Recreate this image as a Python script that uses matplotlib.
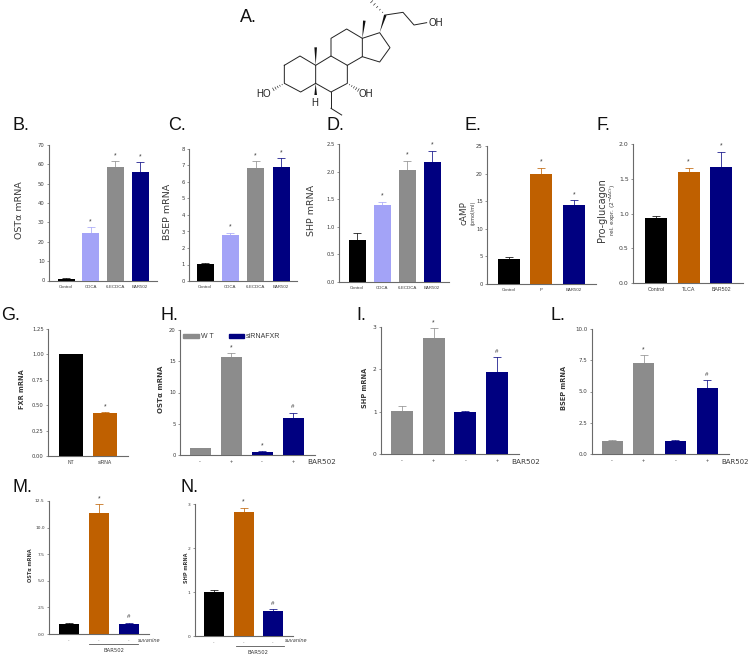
import matplotlib
matplotlib.use("Agg")
import matplotlib.pyplot as plt
from matplotlib.patches import Patch, Polygon

W, H = 751, 656
BLACK, LILAC, GREY, NAVY, ORANGE = "#000000", "#A3A3F7", "#8C8C8C", "#000080", "#BF6000"
TXT = "#3a3a3a"

# ---- data ----
b_labels = ["Control", "CDCA", "6-ECDCA", "BAR502"]
b_vals = [1.0, 24.5, 58.5, 56.0]
b_tops = [1.2, 27.5, 61.5, 61.0]
c_vals = [1.03, 2.8, 6.85, 6.9]
c_tops = [1.07, 2.93, 7.27, 7.45]
d_vals = [0.76, 1.4, 2.03, 2.17]
d_tops = [0.88, 1.45, 2.2, 2.38]
e_labels = ["Control", "P", "BAR502"]
e_vals = [4.6, 20.0, 14.4]
e_tops = [4.9, 21.1, 15.2]
f_labels = ["Control", "TLCA", "BAR502"]
f_vals = [0.93, 1.6, 1.67]
f_tops = [0.97, 1.66, 1.89]
g_labels = ["NT", "siRNA"]
g_vals = [1.0, 0.42]
g_tops = [1.005, 0.43]
pm_labels = ["-", "+", "-", "+"]
h_vals = [1.05, 15.7, 0.5, 6.0]
h_tops = [1.1, 16.3, 0.6, 6.8]
i_vals = [1.02, 2.73, 0.99, 1.93]
i_tops = [1.13, 2.97, 1.01, 2.28]
l_vals = [1.05, 7.3, 1.05, 5.25]
l_tops = [1.1, 7.9, 1.1, 5.9]
mn_labels = ["-", "-", "-"]
m_vals = [0.97, 11.37, 0.95]
m_tops = [1.0, 12.2, 1.08]
n_vals = [1.0, 2.81, 0.57]
n_tops = [1.05, 2.92, 0.61]

fig = plt.figure(figsize=(W / 100, H / 100), dpi=100, facecolor="white")
plt.rcParams["font.family"] = ["Liberation Sans", "DejaVu Sans"]

ov = fig.add_axes([0, 0, 1, 1], zorder=5)
ov.set_xlim(0, W)
ov.set_ylim(H, 0)
ov.axis("off")


def panel(x0, x1, y0, ytop, centers, width, vals, tops, colors, labels, ticks, ticklabels,
          marks, tick_fs=3.8, lab_fs=3.2):
    ax = fig.add_axes([x0 / W, 1 - y0 / H, (x1 - x0) / W, (y0 - ytop) / H])
    s = (centers[-1] - centers[0]) / (len(centers) - 1)
    ax.set_xlim((x0 - centers[0]) / s, (x1 - centers[0]) / s)
    ax.set_ylim(ticks[0], ticks[-1])
    xs = list(range(len(vals)))
    ax.bar(xs, vals, width=width / s, color=colors, linewidth=0, zorder=3)
    for x, v, t, c in zip(xs, vals, tops, colors):
        ax.errorbar([x], [v], yerr=[[0], [t - v]], ecolor=c, elinewidth=0.7, capsize=2.8,
                    capthick=0.7, fmt="none", alpha=0.75, zorder=2, clip_on=False)
    for x, t, m in zip(xs, tops, marks):
        if m:
            ax.annotate(m, (x, t), xytext=(0, 1.5 if m == "*" else 2.5), textcoords="offset points",
                        ha="center", va="bottom", fontsize=4.8 if m == "*" else 4.4, color=TXT,
                        annotation_clip=False)
    for sp in ("top", "right"):
        ax.spines[sp].set_visible(False)
    for sp in ("left", "bottom"):
        ax.spines[sp].set_color("#6a6a6a")
        ax.spines[sp].set_linewidth(0.8)
    ax.set_yticks(ticks)
    ax.set_yticklabels(ticklabels, fontsize=tick_fs, color=TXT, family="DejaVu Sans")
    ax.tick_params(axis="y", length=1.6, width=0.5, pad=1.5, color="#6a6a6a")
    ax.set_xticks(xs)
    ax.set_xticklabels(labels, fontsize=lab_fs, color=TXT)
    ax.tick_params(axis="x", length=0, pad=3)
    ax.patch.set_alpha(0)
    return ax


top = [BLACK, LILAC, GREY, NAVY]
duo = [GREY, GREY, NAVY, NAVY]
tri = [BLACK, ORANGE, NAVY]

panel(49, 157, 280.5, 145, [66, 90, 115, 140], 17, b_vals, b_tops, top, b_labels,
      [0, 10, 20, 30, 40, 50, 60, 70], ["0", "10", "20", "30", "40", "50", "60", "70"], ["", "*", "*", "*"])
panel(189, 297, 281, 149, [205, 231, 256, 281], 17, c_vals, c_tops, top, b_labels,
      list(range(9)), [str(i) for i in range(9)], ["", "*", "*", "*"])
panel(339, 449, 282, 144, [357, 382, 407, 432], 17, d_vals, d_tops, top, b_labels,
      [0, .5, 1, 1.5, 2, 2.5], ["0.0", "0.5", "1.0", "1.5", "2.0", "2.5"], ["", "*", "*", "*"])
panel(487, 596, 284, 146, [509, 542, 574], 22, e_vals, e_tops, tri, e_labels,
      [0, 5, 10, 15, 20, 25], ["0", "5", "10", "15", "20", "25"], ["", "*", "*"])
panel(633, 743, 283, 144, [656, 688, 721], 22, f_vals, f_tops, tri, f_labels,
      [0, .5, 1, 1.5, 2], ["0.0", "0.5", "1.0", "1.5", "2.0"], ["", "*", "*"], tick_fs=4.4, lab_fs=3.8)
panel(48, 128, 456, 329, [71, 105], 24, g_vals, g_tops, [BLACK, ORANGE], g_labels,
      [0, .25, .5, .75, 1, 1.25], ["0.00", "0.25", "0.50", "0.75", "1.00", "1.25"], ["", "*"], lab_fs=3.6)
axh = panel(180, 315, 455, 330, [200, 231, 262, 293], 21, h_vals, h_tops, duo, pm_labels,
            [0, 5, 10, 15, 20], ["0", "5", "10", "15", "20"], ["", "*", "*", "#"], lab_fs=4)
panel(381, 519, 454, 327, [402, 433, 466, 497], 22, i_vals, i_tops, duo, pm_labels,
      [0, 1, 2, 3], ["0", "1", "2", "3"], ["", "*", "", "#"], tick_fs=4.2, lab_fs=4)
panel(592, 729, 454, 329, [612, 644, 676, 707], 21, l_vals, l_tops, duo, pm_labels,
      [0, 2.5, 5, 7.5, 10], ["0.0", "2.5", "5.0", "7.5", "10.0"], ["", "*", "", "#"], tick_fs=4.0, lab_fs=4)
panel(49, 149, 634, 501, [69, 99, 129], 20, m_vals, m_tops, tri, mn_labels,
      [0, 2.5, 5, 7.5, 10, 12.5], ["0.0", "2.5", "5.0", "7.5", "10.0", "12.5"], ["", "*", "#"], tick_fs=3.2)
panel(195, 293, 636, 504, [214, 244, 273], 20, n_vals, n_tops, tri, mn_labels,
      [0, 1, 2, 3], ["0", "1", "2", "3"], ["", "*", "#"], tick_fs=3.2)

# legend of panel H
axh.legend(handles=[Patch(color=GREY, label="W T"), Patch(color=NAVY, label="siRNAFXR")],
           loc="upper left", bbox_to_anchor=(0.0, 1.0), ncol=2, frameon=False, fontsize=5,
           handlelength=2.2, handleheight=0.7, handletextpad=0.3, columnspacing=2.2,
           borderpad=0.3, borderaxespad=0.2, labelcolor=TXT)

# panel letters
letters = {"A.": (240, 17), "B.": (12, 125), "C.": (168, 125), "D.": (326, 125), "E.": (465, 125),
           "F.": (597, 125), "G.": (1, 316), "H.": (160, 316), "I.": (356, 316), "L.": (550, 315),
           "M.": (12, 487), "N.": (180, 487)}
for k, (x, y) in letters.items():
    ov.text(x, y, k, fontsize=13, ha="left", va="center", color="#111111")

# y labels
ylabels = [("OSTα mRNA", 19, 210, 6.8, "normal"), ("BSEP mRNA", 168, 212, 6.8, "normal"),
           ("SHP mRNA", 312, 210, 6.8, "normal"), ("cAMP", 464, 213, 6.4, "normal"),
           ("(pmol/ml)", 473, 213, 3.6, "normal"), ("Pro-glucagon", 602, 210, 7.0, "normal"),
           ("rel. expr. (2$^{-ΔΔCt}$)", 613, 210, 4.2, "normal"),
           ("FXR mRNA", 22, 389, 4.8, "bold"), ("OSTα mRNA", 161, 389, 5.0, "bold"),
           ("SHP mRNA", 365, 388, 4.8, "bold"), ("BSEP mRNA", 564, 388, 4.8, "bold"),
           ("OSTα mRNA", 31, 565, 3.6, "bold"), ("SHP mRNA", 186, 568, 3.6, "bold")]
for t, x, y, fs, w in ylabels:
    ov.text(x, y, t, rotation=90, ha="center", va="center", fontsize=fs, fontweight=w, color=TXT,
            family="DejaVu Sans")

# annotations under the axes
for t, x, y, fs, st in [("BAR502", 307, 462, 5.2, "normal"), ("BAR502", 511, 462, 5.2, "normal"),
                        ("BAR502", 721, 462, 5.0, "normal"), ("suvanine", 138, 640, 3.6, "italic"),
                        ("suvanine", 285, 641, 3.6, "italic"), ("BAR502", 103, 651, 3.8, "normal"),
                        ("BAR502", 248, 653, 3.8, "normal")]:
    ov.text(x, y, t, ha="left", va="center", fontsize=fs, style=st, color=TXT, family="DejaVu Sans")
ov.plot([89, 138], [644, 644], color="#555555", lw=0.6)
ov.plot([236, 284], [646, 646], color="#555555", lw=0.6)

# structural formula, A (drawn in pixel space)
def mol(x, y):
    return 230 + x / 3, y / 3

bonds = [[(163, 196), (210, 168), (257, 196), (257, 250), (212, 276), (163, 250), (163, 196)],
         [(257, 196), (303, 168), (352, 196), (352, 250), (303, 276), (257, 250)],
         [(303, 168), (303, 115), (350, 87), (397, 115), (397, 170), (352, 196)],
         [(397, 115), (449, 98), (480, 143), (449, 186), (397, 170)],
         [(466, 45), (519, 37), (552, 75), (590, 68)],
         [(303, 276), (303, 325)], [(303, 325), (335, 345)]]
for b in bonds:
    p = [mol(*q) for q in b]
    ov.plot([a[0] for a in p], [a[1] for a in p], color="#222222", lw=0.7, solid_joinstyle="round",
            clip_on=False)
wedges = [((257, 196), (257, 142)), ((397, 115), (403, 62)), ((449, 98), (466, 45)), ((257, 250), (257, 285))]
for (a, b) in wedges:
    ax_, ay_ = mol(*a)
    bx_, by_ = mol(*b)
    dx, dy = bx_ - ax_, by_ - ay_
    n = (dx * dx + dy * dy) ** 0.5
    ox, oy = -dy / n * 1.3, dx / n * 1.3
    ov.add_patch(Polygon([(ax_, ay_), (bx_ + ox, by_ + oy), (bx_ - ox, by_ - oy)], closed=True,
                         color="#111111", lw=0))
hashes = [((466, 45), (425, 5)), ((163, 250), (130, 268)), ((352, 250), (385, 270))]
for (a, b) in hashes:
    ax_, ay_ = mol(*a)
    bx_, by_ = mol(*b)
    dx, dy = bx_ - ax_, by_ - ay_
    n = (dx * dx + dy * dy) ** 0.5
    for i in range(1, 6):
        f = i / 5
        cx, cy = ax_ + dx * f, ay_ + dy * f
        ox, oy = -dy / n * 1.5 * f, dx / n * 1.5 * f
        ov.plot([cx - ox, cx + ox], [cy - oy, cy + oy], color="#222222", lw=0.45)
for t, x, y in [("OH", 616, 70), ("HO", 100, 282), ("OH", 408, 282), ("H", 255, 308)]:
    px, py = mol(x, y)
    ov.text(px, py, t, ha="center", va="center", fontsize=7, color="#222222")

fig.savefig("out.png", dpi=100)
